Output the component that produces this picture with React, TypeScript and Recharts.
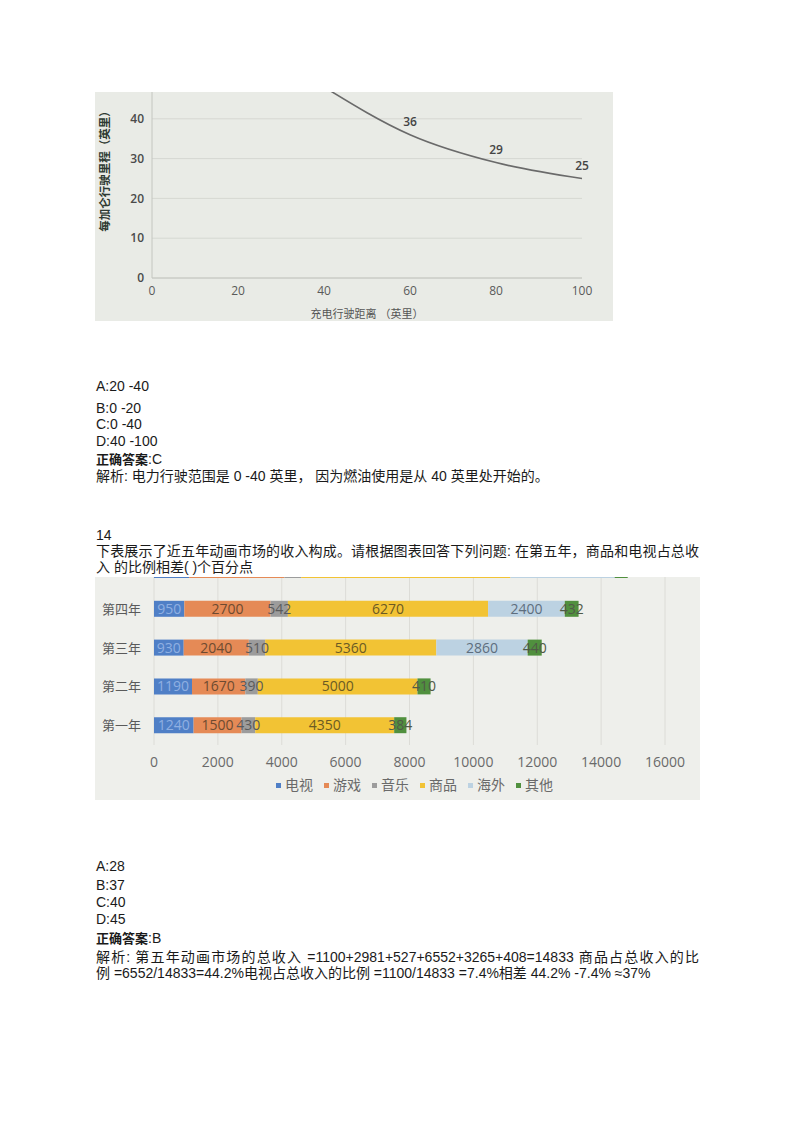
import React from 'react';
import {
  LineChart, Line, XAxis, YAxis, CartesianGrid, LabelList,
  BarChart, Bar, Legend,
} from 'recharts';

// ---------- Chart 1: 充电行驶距离 vs 每加仑行驶里程 ----------
const distance = [40, 60, 80, 100];
const mpg = [48, 36, 29, 25];
const mpgLabels = ['', '36', '29', '25'];
const xTicks1 = [0, 20, 40, 60, 80, 100];
const yTicks1 = [0, 10, 20, 30, 40];

// ---------- Chart 2: 动画市场收入构成 ----------
const years = ['第一年', '第二年', '第三年', '第四年', '第五年'];
const tv = [1240, 1190, 930, 950, 1100];
const games = [1500, 1670, 2040, 2700, 2981];
const music = [430, 390, 510, 542, 527];
const goods = [4350, 5000, 5360, 6270, 6552];
const overseas = [0, 0, 2860, 2400, 3265];
const other = [384, 410, 440, 432, 408];
const seriesNames = ['电视', '游戏', '音乐', '商品', '海外', '其他'];
const xTicks2 = [0, 2000, 4000, 6000, 8000, 10000, 12000, 14000, 16000];

const lineData = distance.map((d, i) => ({ d, v: mpg[i], lab: mpgLabels[i] }));
const barData = years.map((y, i) => ({
  year: y,
  s0: tv[i], s1: games[i], s2: music[i], s3: goods[i], s4: overseas[i], s5: other[i],
}));

const seriesColors = ['#4f7fc6', '#e58a56', '#9c9c9c', '#f2c334', '#bcd2e2', '#50903e'];
const labelColors = ['#8fb0e2', '#6e4a30', '#5a5a5a', '#6b5a24', '#5e6e7e', '#505a48'];

const TEXT_FONT = "'Liberation Sans', 'Noto Sans CJK SC', sans-serif";
const CHART_FONT = "'Open Sans', 'Noto Sans CJK SC', sans-serif";

const Txt: React.FC<{ y: number; x?: number; justify?: boolean; children: React.ReactNode }> = ({ y, x = 96, justify, children }) => (
  <div
    style={{
      position: 'absolute', left: x, top: y - 7, fontSize: 14, lineHeight: '14px', zIndex: 2,
      whiteSpace: 'nowrap', color: '#1a1a1a', fontFamily: TEXT_FONT,
      ...(justify ? { width: 603, textAlign: 'justify', textAlignLast: 'justify', whiteSpace: 'normal' } : {}),
    } as React.CSSProperties}
  >
    {children}
  </div>
);

const Bold: React.FC<{ children: React.ReactNode }> = ({ children }) => (
  <b style={{ fontSize: 13 }}>{children}</b>
);

const LegendContent = () => (
  <div style={{ display: 'flex', justifyContent: 'center', gap: 11, fontFamily: CHART_FONT, fontSize: 14, lineHeight: '20px', color: '#6a6a6a', paddingLeft: 10 }}>
    {seriesNames.map((n, i) => (
      <div key={n} style={{ display: 'flex', alignItems: 'center' }}>
        <span style={{ display: 'inline-block', width: 5, height: 5, background: seriesColors[i], marginRight: 4 }} />
        <span>{n}</span>
      </div>
    ))}
  </div>
);

export default function App() {
  return (
    <div style={{ position: 'absolute', left: 0, top: 0, width: 800, height: 1131, background: '#fff' }}>
      {/* Chart 1 */}
      <div style={{ position: 'absolute', left: 95, top: 92, width: 518, height: 229, overflow: 'hidden', background: '#e9ebe6' }}>
        <div style={{ position: 'absolute', left: 0, top: -20 }}>
          <LineChart width={518} height={256} data={lineData} margin={{ top: 7, right: 31, bottom: 10, left: 0 }}>
            <CartesianGrid vertical={false} stroke="#d6d8d2" />
            <XAxis
              dataKey="d" type="number" domain={[0, 100]} ticks={xTicks1}
              axisLine={{ stroke: '#c4c6c0' }} tickLine={false} height={40}
              tick={{ fontSize: 12, fill: '#5a5a5a', fontFamily: CHART_FONT }}
              label={{ value: '充电行驶距离 （英里）', position: 'insideBottom', offset: 0, fontSize: 11, fill: '#555', fontFamily: CHART_FONT }}
            />
            <YAxis
              type="number" domain={[0, 50]} ticks={yTicks1} width={57}
              axisLine={{ stroke: '#c4c6c0' }} tickLine={false}
              tick={{ fontSize: 12, fill: '#4a4a4a', fontWeight: 600, fontFamily: CHART_FONT }}
              label={{ value: '每加仑行驶里程（英里）', angle: -90, position: 'insideLeft', offset: 10, dy: -10, style: { textAnchor: 'middle' }, fontSize: 11.5, fill: '#2f3a32', fontWeight: 700, fontFamily: CHART_FONT }}
            />
            <Line
              type="monotone" dataKey="v" stroke="#6a6a6a" strokeWidth={1.6} dot={false}
              isAnimationActive={false}
            >
              <LabelList
                dataKey="lab" position="top" offset={9}
                style={{ fontSize: 12, fill: '#444', fontWeight: 600, fontFamily: CHART_FONT }}
              />
            </Line>
          </LineChart>
        </div>
      </div>

      {/* Chart 2 */}
      <div style={{ position: 'absolute', left: 95, top: 577, width: 605, height: 223, overflow: 'hidden', background: '#eeefeb' }}>
        <div style={{ position: 'absolute', left: 0, top: -33 }}>
          <BarChart
            width={605} height={256} data={barData} layout="vertical"
            margin={{ top: 7, right: 35, bottom: 5, left: 0 }}
          >
            <CartesianGrid horizontal={false} stroke="#dcdcd7" />
            <XAxis
              type="number" domain={[0, 16000]} ticks={xTicks2} axisLine={false} tickLine={false}
              height={30} tickMargin={6}
              tick={{ fontSize: 14, fill: '#6a6a6a', fontFamily: CHART_FONT }}
            />
            <YAxis
              type="category" dataKey="year" reversed width={59} axisLine={false} tickLine={false}
              tickMargin={7}
              tick={{ fontSize: 13, fill: '#5a5a5a', fontFamily: CHART_FONT }}
            />
            <Legend content={<LegendContent />} wrapperStyle={{ left: 59, width: 511 }} />
            {seriesNames.map((n, i) => (
              <Bar key={n} dataKey={`s${i}`} name={n} stackId="a" fill={seriesColors[i]} barSize={16} isAnimationActive={false}>
                <LabelList
                  dataKey={`s${i}`} position="center"
                  formatter={(v: any) => (v ? String(v) : '')}
                  style={{ fontSize: 14, fill: labelColors[i], fontFamily: CHART_FONT }}
                />
              </Bar>
            ))}
          </BarChart>
        </div>
      </div>

      <Txt y={386}>A:20 -40</Txt>
      <Txt y={408}>B:0 -20</Txt>
      <Txt y={424}>C:0 -40</Txt>
      <Txt y={441}>D:40 -100</Txt>
      <Txt y={459}><Bold>正确答案</Bold>:C</Txt>
      <Txt y={476}>解析: 电力行驶范围是 0 -40 英里， 因为燃油使用是从 40 英里处开始的。</Txt>

      <Txt y={535}>14</Txt>
      <Txt y={551} justify>下表展示了近五年动画市场的收入构成。请根据图表回答下列问题: 在第五年，商品和电视占总收</Txt>
      <Txt y={567}>入 的比例相差( )个百分点</Txt>

      <Txt y={866}>A:28</Txt>
      <Txt y={885}>B:37</Txt>
      <Txt y={902}>C:40</Txt>
      <Txt y={919}>D:45</Txt>
      <Txt y={938}><Bold>正确答案</Bold>:B</Txt>
      <Txt y={957} justify>解析: 第五年动画市场的总收入 =1100+2981+527+6552+3265+408=14833 商品占总收入的比</Txt>
      <Txt y={973}>例 =6552/14833=44.2%电视占总收入的比例 =1100/14833 =7.4%相差 44.2% -7.4% ≈37%</Txt>
    </div>
  );
}
